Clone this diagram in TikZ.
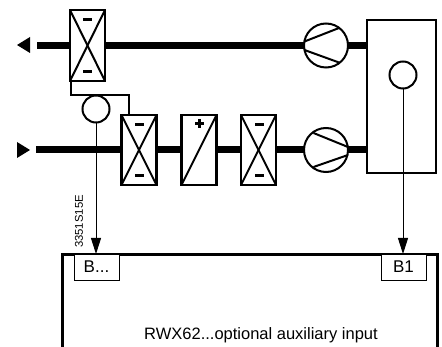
\documentclass[tikz,border=0pt]{standalone}
\usepackage{fontspec}
\setmainfont{Liberation Sans}
\usetikzlibrary{arrows.meta}
\tikzset{
  x=1pt,y=-1pt,
  duct/.style={line width=7pt},
  unit/.style={draw,line width=2.2pt,fill=white,minimum width=35pt,minimum height=70pt,inner sep=0pt,outer sep=0pt},
  sens/.style={circle,draw,line width=2pt,fill=white,minimum size=27pt,inner sep=0pt,outer sep=0pt},
  pump/.style={circle,draw,line width=2pt,fill=white,minimum size=44pt,inner sep=0pt,outer sep=0pt},
  sig/.style={line width=1pt,-{Triangle[length=16pt,width=10pt]}},
  thin box/.style={draw,line width=0.9pt,fill=white,minimum width=45pt,minimum height=26pt,inner sep=0pt,outer sep=0pt,font=\fontsize{17}{18}\selectfont},
  mark bar/.style={fill=black,minimum width=9pt,minimum height=3pt,inner sep=0pt,outer sep=0pt},
  blade/.style={line width=2pt}
}
\begin{document}
\begin{tikzpicture}
\useasboundingbox (0,0) rectangle (442,347);
\coordinate (outEnd) at (37,45.5);
\coordinate (inEnd) at (36,150);
\coordinate (tipOutL) at (17,45);
\coordinate (tipInR) at (30,150);
\node[unit,minimum height=71pt] (d1) at (87.5,45.5) {};
\node[unit] (d2) at (139,150) {};
\node[unit] (h) at (199,150) {};
\node[unit] (d3) at (258.5,150) {};
\node[pump] (p1) at (326,45.5) {};
\node[pump] (p2) at (326,150) {};
\node[draw,line width=2.2pt,fill=white,minimum width=69pt,minimum height=153.5pt,inner sep=0pt,outer sep=0pt] (room) at (401.5,96.5) {};
% ducts
\draw[duct] (outEnd) -- (d1.west);
\draw[duct] (d1.east) -- (p1.west);
\draw[duct] (p1.east) -- (p1.east -| room.west);
\draw[duct] (inEnd) -- (d2.west);
\draw[duct] (d2.east) -- (h.west);
\draw[duct] (h.east) -- (d3.west);
\draw[duct] (d3.east) -- (p2.west);
\draw[duct] (p2.east) -- (p2.east -| room.west);
% duct end triangles
\fill (tipOutL) -- (30,37) -- (30,53) -- cycle;
\fill (tipInR) -- (17,142) -- (17,158) -- cycle;
% damper crosses
\foreach \n in {d1,d2,d3}{
  \draw[blade] (\n.north west) -- (\n.south east);
  \draw[blade] (\n.north east) -- (\n.south west);
}
\draw[blade] (h.south west) -- (h.north east);
\node[mark bar] (m1) at (87.5,19.5) {};
\node[mark bar] (m2) at (87.5,71.5) {};
\node[mark bar] (m3) at (139,124.5) {};
\node[mark bar] (m4) at (139,176) {};
\node[mark bar] (m5) at (259,124.5) {};
\node[mark bar] (m6) at (259,176) {};
\node[mark bar] (m7) at (199,124) {};
\node[mark bar,minimum width=3pt,minimum height=9pt] (m8) at (199,124) {};
% pump blades
\draw[blade] (304.5,41.5) -- (339,28);
\draw[blade] (304.5,50) -- (339,62.5);
\draw[blade] (313.5,133) -- (348,147);
\draw[blade] (313.5,167) -- (348,155);
% link between dampers
\draw[blade] (70.5,81) |- (128.5,95.5) -- (128.5,115);
% controller
\draw[line width=2.8pt] (62.5,347) -- (62.5,254.5) -- (437.5,254.5) -- (437.5,347);
\node[thin box] (bx) at (96.5,267) {B...};
\node[thin box] (b1) at (403.5,267) {B1};
% sensors
\node[sens] (s1) at (96,109) {};
\node[sens] (s2) at (403,75) {};
\draw[sig] (s1.south) -- (bx.north -| s1.south);
\draw[sig] (s2.south) -- (b1.north -| s2.south);
% labels
\node[rotate=90,inner sep=0pt,font=\fontsize{11.3}{12}\selectfont] (code) at (79,221.5) {3351S15E};
\node[inner sep=0pt,anchor=base,font=\fontsize{16.5}{17}\selectfont] (lbl) at (261,340) {RWX62...optional auxiliary input};
\end{tikzpicture}
\end{document}
